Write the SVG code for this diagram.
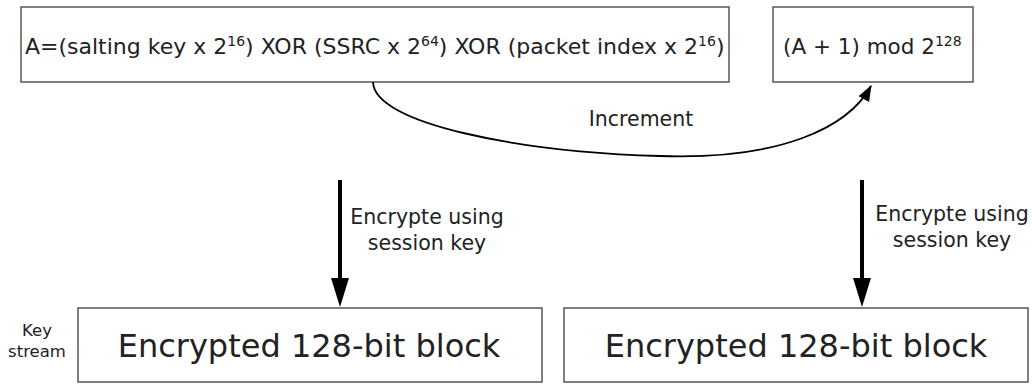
<svg xmlns="http://www.w3.org/2000/svg" width="1032" height="385" viewBox="0 0 1032 385">
<style>
.box{fill:#fff;stroke:#555;stroke-width:1.5}
.t{font-family:"DejaVu Sans",Verdana,sans-serif;fill:#222}
.top{font-size:22px}
.top2{font-size:21.5px}
.big{font-size:32px;text-anchor:middle}
.lab{font-size:20.5px;text-anchor:middle}
.sm{font-size:16.5px;text-anchor:middle}
.sup{font-size:14px}
.arr{stroke:#000;stroke-width:4;fill:none}
.cur{stroke:#000;stroke-width:1.8;fill:none}
</style>
<defs>
<marker id="ah" markerWidth="16" markerHeight="16" refX="15" refY="8" orient="auto" markerUnits="userSpaceOnUse" viewBox="0 0 16 16">
<path d="M0,2 L16,8 L0,14 z" fill="#000"/>
</marker>
</defs>
<rect width="1032" height="385" fill="#fff"/>
<g id="nodeA">
<rect class="box" x="21" y="7" width="708" height="75"/>
<text class="t top" x="25" y="54">A=(salting key x 2<tspan class="sup" dy="-8">16</tspan><tspan dy="8">) XOR (SSRC x 2</tspan><tspan class="sup" dy="-8">64</tspan><tspan dy="8">) XOR (packet index x 2</tspan><tspan class="sup" dy="-8">16</tspan><tspan dy="8">)</tspan></text>
</g>
<g id="nodeInc">
<rect class="box" x="773" y="7" width="200" height="75"/>
<text class="t top2" x="783" y="54">(A + 1) mod 2<tspan class="sup" dy="-8">128</tspan></text>
</g>
<g id="nodeB1">
<rect class="box" x="78" y="308" width="464" height="74"/>
<text class="t big" x="309" y="357">Encrypted 128-bit block</text>
</g>
<g id="nodeB2">
<rect class="box" x="564" y="308" width="464" height="74"/>
<text class="t big" x="796" y="357">Encrypted 128-bit block</text>
</g>
<g id="keystream">
<text class="t sm" x="37" y="336">Key</text>
<text class="t sm" x="37" y="357">stream</text>
</g>
<g id="connectors">
<path class="cur" d="M373,82 C374,124 520,152 660,156 C780,160 848,128 871,86" marker-end="url(#ah)"/>
<text class="t lab" x="641" y="126">Increment</text>
<line class="arr" x1="340" y1="180" x2="340" y2="280"/>
<path d="M331,278 L349,278 L340,307 z" fill="#000"/>
<text class="t lab" x="427" y="224">Encrypte using</text>
<text class="t lab" x="427" y="250">session key</text>
<line class="arr" x1="862" y1="180" x2="862" y2="280"/>
<path d="M853,278 L871,278 L862,307 z" fill="#000"/>
<text class="t lab" x="952" y="221">Encrypte using</text>
<text class="t lab" x="952" y="247">session key</text>
</g>
</svg>
